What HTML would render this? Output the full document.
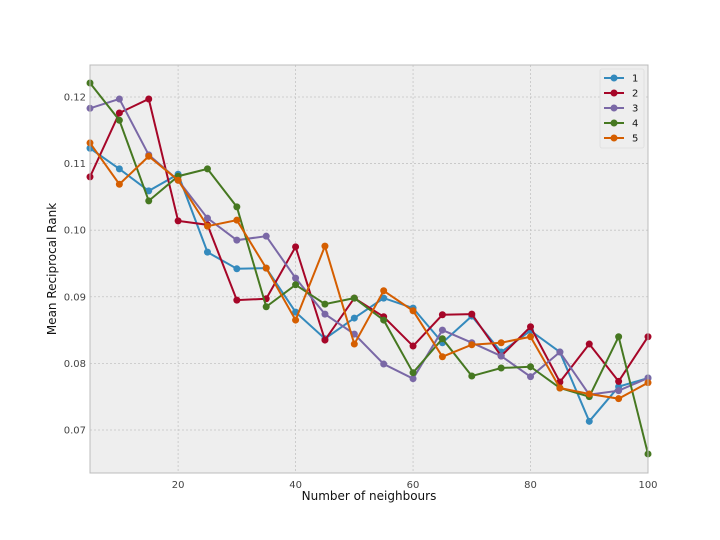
<!DOCTYPE html>
<html><head><meta charset="utf-8"><style>
body{margin:0;background:#fff;font-family:"DejaVu Sans","Liberation Sans",sans-serif;}
svg{display:block}
</style></head><body>
<svg id="chart" width="720" height="540" xmlns="http://www.w3.org/2000/svg" font-family="DejaVu Sans, Liberation Sans, sans-serif"></svg>
<script>
const xValues=[5,10,15,20,25,30,35,40,45,50,55,60,65,70,75,80,85,90,95,100];
const series1=[0.1123,0.1092,0.1059,0.1084,0.0967,0.0942,0.0943,0.0877,0.0837,0.0868,0.0898,0.0883,0.0831,0.0871,0.0817,0.0849,0.0817,0.0713,0.0765,0.0778];
const series2=[0.1080,0.1176,0.1197,0.1014,0.1008,0.0895,0.0897,0.0975,0.0835,0.0898,0.0870,0.0826,0.0873,0.0874,0.0811,0.0855,0.0772,0.0829,0.0773,0.0840];
const series3=[0.1183,0.1197,0.1113,0.1075,0.1018,0.0985,0.0991,0.0928,0.0874,0.0844,0.0799,0.0777,0.0850,0.0831,0.0811,0.0780,0.0817,0.0753,0.0759,0.0778];
const series4=[0.1221,0.1165,0.1044,0.1081,0.1092,0.1035,0.0885,0.0918,0.0889,0.0898,0.0865,0.0786,0.0837,0.0781,0.0793,0.0795,0.0763,0.0750,0.0840,0.0664];
const series5=[0.1131,0.1069,0.1111,0.1075,0.1006,0.1015,0.0943,0.0865,0.0976,0.0829,0.0909,0.0879,0.0810,0.0828,0.0831,0.0840,0.0763,0.0754,0.0747,0.0771];
const seriesNames=["1","2","3","4","5"];
const xTicks=[20,40,60,80,100];
const yTicks=[0.07,0.08,0.09,0.10,0.11,0.12];
const yTickLabels=["0.07","0.08","0.09","0.10","0.11","0.12"];

const allSeries=[series1,series2,series3,series4,series5];
const colors=["#348ABD","#A60628","#7A68A6","#467821","#D55E00"];
const L=90,R=648,T=65,B=473;
const xMin=5,xMax=100,yMin=0.06354,yMax=0.1248;
const sx=v=>L+(v-xMin)/(xMax-xMin)*(R-L);
const sy=v=>B-(v-yMin)/(yMax-yMin)*(B-T);
const NS="http://www.w3.org/2000/svg";
const svg=document.getElementById('chart');
function mk(tag,attrs,parent){const e=document.createElementNS(NS,tag);for(const k in attrs)e.setAttribute(k,attrs[k]);(parent||svg).appendChild(e);return e;}

const bg=mk('rect',{x:L,y:T,width:R-L,height:B-T,fill:'#eeeeee'});


const grid=mk('g',{});


xTicks.forEach(t=>{mk('line',{x1:sx(t),x2:sx(t),y1:T,y2:B,stroke:'#c4c4c4','stroke-width':0.8,'stroke-dasharray':'2,2'},grid);});
yTicks.forEach(t=>{mk('line',{x1:L,x2:R,y1:sy(t),y2:sy(t),stroke:'#c4c4c4','stroke-width':0.8,'stroke-dasharray':'2,2'},grid);});

const xAxis=mk('g',{});


xTicks.forEach(t=>{
  const tx=mk('text',{x:sx(t),y:B+15,'text-anchor':'middle','font-size':10,fill:'#444'},xAxis);tx.textContent=t;
  
  
});
const yAxis=mk('g',{});


yTicks.forEach((t,i)=>{
  const tx=mk('text',{x:L-4,y:sy(t)+3.5,'text-anchor':'end','font-size':10,fill:'#444'},yAxis);tx.textContent=yTickLabels[i];
  
  
});

allSeries.forEach((s,i)=>{
  const g=mk('g',{});
  
  
  mk('polyline',{points:s.map((v,j)=>sx(xValues[j])+','+sy(v)).join(' '),fill:'none',stroke:colors[i],'stroke-width':2},g);
  s.forEach((v,j)=>{
    const c=mk('circle',{cx:sx(xValues[j]),cy:sy(v),r:3.5,fill:colors[i]},g);
    
    
  });
});

const frame=mk('rect',{x:L,y:T,width:R-L,height:B-T,fill:'none',stroke:'#bcbcbc','stroke-width':1});



const xt=mk('text',{x:(L+R)/2,y:500,'text-anchor':'middle','font-size':12,fill:'#111'});xt.textContent='Number of neighbours';


const yt=mk('text',{x:0,y:0,'text-anchor':'middle','font-size':12,fill:'#111',transform:'translate(56,'+((T+B)/2)+') rotate(-90)'});yt.textContent='Mean Reciprocal Rank';



const lg=mk('g',{});


mk('rect',{x:600,y:69,width:44,height:79,fill:'#eeeeee',stroke:'#dddddd','stroke-width':0.8,rx:2},lg);
seriesNames.forEach((n,i)=>{
  const e=mk('g',{},lg);
  
  
  const yy=78+i*15;
  mk('line',{x1:604,x2:624,y1:yy,y2:yy,stroke:colors[i],'stroke-width':2},e);
  mk('circle',{cx:614,cy:yy,r:3.5,fill:colors[i]},e);
  const t=mk('text',{x:632,y:yy+3.5,'font-size':10,fill:'#111'},e);t.textContent=n;
});
</script>
</body></html>
